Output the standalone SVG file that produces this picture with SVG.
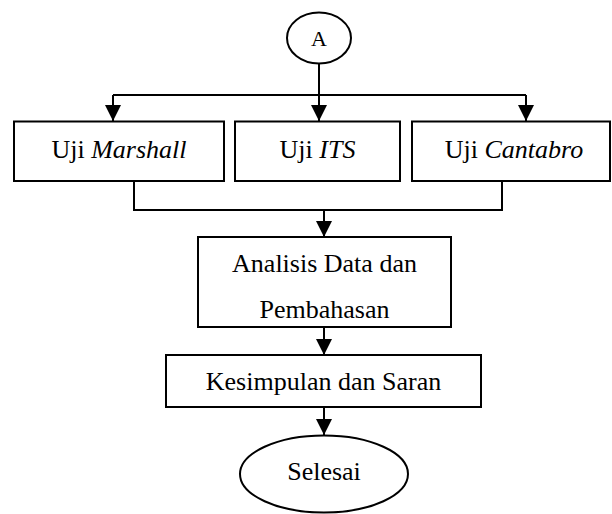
<svg xmlns="http://www.w3.org/2000/svg" width="612" height="514" viewBox="0 0 612 514">
<style>
.box{fill:#fff;stroke:#000;stroke-width:2}
.t{font-family:"Liberation Serif","Times New Roman",serif;font-size:26px;fill:#000;text-anchor:middle}
.c{fill:none;stroke:#000;stroke-width:2}
</style>
<defs>
<marker id="ah" viewBox="0 0 16 16" refX="16" refY="8" markerWidth="16" markerHeight="16" markerUnits="userSpaceOnUse" orient="auto">
<path d="M0,0 L16,8 L0,16 z" fill="#000"/>
</marker>
</defs>
<rect width="612" height="514" fill="#fff"/>
<g id="connectors">
<path class="c" d="M319,63 V121" marker-end="url(#ah)"/>
<path class="c" d="M113,95 H526"/>
<path class="c" d="M113,95 V121" marker-end="url(#ah)"/>
<path class="c" d="M526,95 V121" marker-end="url(#ah)"/>
<path class="c" d="M134,181 V210 H502 V181"/>
<path class="c" d="M324,210 V237" marker-end="url(#ah)"/>
<path class="c" d="M324,327 V355" marker-end="url(#ah)"/>
<path class="c" d="M324,407 V435" marker-end="url(#ah)"/>
</g>
<g id="nodeA">
<ellipse class="box" cx="319" cy="38" rx="32" ry="25.5"/>
<text class="t" x="319" y="46" style="font-size:22px">A</text>
</g>
<g id="marshall">
<rect class="box" x="14" y="121.5" width="210" height="59.5"/>
<text class="t" x="119" y="158">Uji <tspan font-style="italic">Marshall</tspan></text>
</g>
<g id="its">
<rect class="box" x="235" y="121.5" width="165" height="59.5"/>
<text class="t" x="317.5" y="158">Uji <tspan font-style="italic">ITS</tspan></text>
</g>
<g id="cantabro">
<rect class="box" x="412" y="121.5" width="198" height="59.5"/>
<text class="t" x="514" y="158">Uji <tspan font-style="italic">Cantabro</tspan></text>
</g>
<g id="analisis">
<rect class="box" x="198" y="237" width="253" height="90"/>
<text class="t" x="324.5" y="272">Analisis Data dan</text>
<text class="t" x="324.5" y="318">Pembahasan</text>
</g>
<g id="kesimpulan">
<rect class="box" x="166" y="355" width="315" height="52"/>
<text class="t" x="323.5" y="390">Kesimpulan dan Saran</text>
</g>
<g id="selesai">
<ellipse class="box" cx="324" cy="474" rx="84" ry="38.5"/>
<text class="t" x="324" y="480">Selesai</text>
</g>
</svg>
